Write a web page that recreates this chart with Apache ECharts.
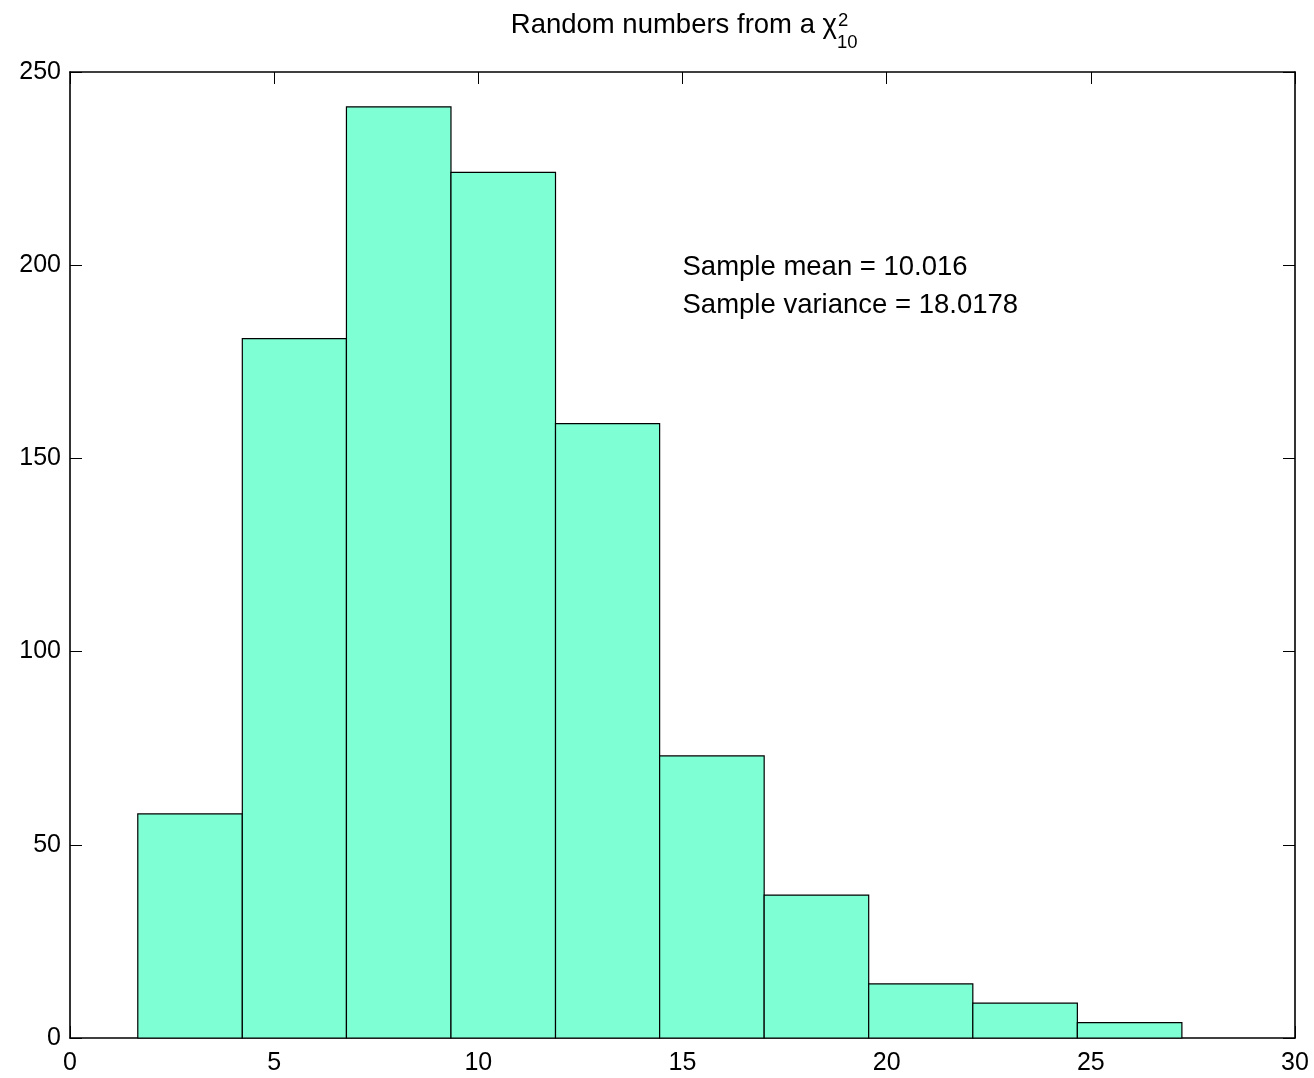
<!DOCTYPE html>
<html>
<head>
<meta charset="utf-8">
<script src="https://cdn.jsdelivr.net/npm/echarts@6/dist/echarts.min.js"></script>
<style>
html,body{margin:0;padding:0;background:#fff;}
#chart{width:1314px;height:1078px;}
</style>
</head>
<body>
<div id="chart"></div>
<script>
// Histogram bin edges (x) and counts
const binEdges = [1.66, 4.22, 6.77, 9.33, 11.89, 14.44, 17.00, 19.56, 22.11, 24.67, 27.23];
const counts = [58, 181, 241, 224, 159, 73, 37, 14, 9, 4];
const xTicks = [0, 5, 10, 15, 20, 25, 30];
const yTicks = [0, 50, 100, 150, 200, 250];
const annotations = [
  {x: 15, y: 200, text: 'Sample mean = 10.016'},
  {x: 15, y: 190, text: 'Sample variance = 18.0178'}
];

const barData = counts.map((c, i) => [binEdges[i], binEdges[i + 1], c]);
const FONT = '"Liberation Sans", Arial, Helvetica, sans-serif';

const chart = echarts.init(document.getElementById('chart'));
function axisCommon() {
  return {
    axisLine: {show: true, onZero: false, lineStyle: {color: '#000', width: 1.6}},
    axisTick: {show: true, inside: true, length: 12, lineStyle: {color: '#000', width: 1}},
    splitLine: {show: false}
  };
}
chart.setOption({
  animation: false,
  backgroundColor: '#fff',
  grid: {left: 70, right: 19, top: 72, bottom: 40, containLabel: false},
  xAxis: [
    Object.assign({type: 'value', min: xTicks[0], max: xTicks[xTicks.length - 1], interval: 5,
      axisLabel: {color: '#000', fontSize: 25, fontFamily: FONT, margin: 13}}, axisCommon()),
    Object.assign({type: 'value', position: 'top', min: xTicks[0], max: xTicks[xTicks.length - 1], interval: 5,
      axisLabel: {show: false}}, axisCommon())
  ],
  yAxis: [
    Object.assign({type: 'value', min: yTicks[0], max: yTicks[yTicks.length - 1], interval: 50,
      axisLabel: {color: '#000', fontSize: 25, fontFamily: FONT, margin: 9}}, axisCommon()),
    Object.assign({type: 'value', position: 'right', min: yTicks[0], max: yTicks[yTicks.length - 1], interval: 50,
      axisLabel: {show: false}}, axisCommon())
  ],
  graphic: [
    {type: 'text', x: 837, y: 25, style: {text: 'Random numbers from a χ', font: '27.5px ' + FONT, fill: '#000', textAlign: 'right', textVerticalAlign: 'middle'}},
    {type: 'text', x: 838, y: 21, style: {text: '2', font: '18.5px ' + FONT, fill: '#000', textAlign: 'left', textVerticalAlign: 'middle'}},
    {type: 'text', x: 837, y: 43, style: {text: '10', font: '18.5px ' + FONT, fill: '#000', textAlign: 'left', textVerticalAlign: 'middle'}}
  ],
  series: [
    {
      type: 'custom',
      xAxisIndex: 0, yAxisIndex: 0,
      data: barData,
      renderItem: function (params, api) {
        const p0 = api.coord([api.value(0), 0]);
        const p1 = api.coord([api.value(1), api.value(2)]);
        return {
          type: 'rect',
          shape: {x: p0[0], y: p1[1], width: p1[0] - p0[0], height: p0[1] - p1[1]},
          style: {fill: '#7FFFD4', stroke: '#000', lineWidth: 1.2}
        };
      }
    },
    {
      type: 'custom',
      xAxisIndex: 0, yAxisIndex: 0,
      data: annotations.map(a => [a.x, a.y]),
      renderItem: function (params, api) {
        const p = api.coord([api.value(0), api.value(1)]);
        return {
          type: 'text',
          x: p[0], y: p[1] + 2,
          style: {text: annotations[params.dataIndex].text, font: '27.5px ' + FONT, fill: '#000', textAlign: 'left', textVerticalAlign: 'middle'}
        };
      }
    }
  ]
});
</script>
</body>
</html>
